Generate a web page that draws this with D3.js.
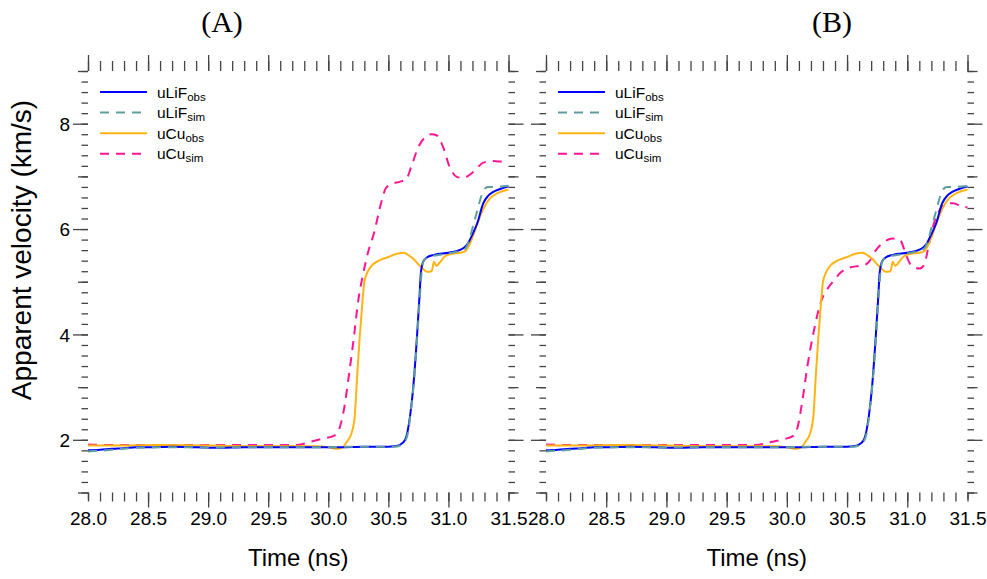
<!DOCTYPE html>
<html>
<head>
<meta charset="utf-8">
<script src="https://cdn.jsdelivr.net/npm/d3@7"></script>
<style>
  html, body { margin: 0; padding: 0; background: #fff; }
  svg { display: block; font-family: "Liberation Sans", Arial, Helvetica, sans-serif; }
</style>
</head>
<body>
<svg id="chart" width="987" height="579"></svg>
<script>
// Apparent velocity histories: LiF window and Cu sample, observed vs simulated.
// Times in ns, velocities in km/s.

const liFObsT = [28.0, 28.1, 28.2, 28.3, 28.4, 28.5, 28.7, 28.9, 29.1, 29.3, 29.5, 29.7, 29.9, 30.1, 30.3, 30.45, 30.55, 30.6, 30.64, 30.68, 30.71, 30.74, 30.76, 30.77, 30.79, 30.82, 30.88, 31.0, 31.08, 31.12, 31.16, 31.2, 31.24, 31.29, 31.33, 31.37, 31.43, 31.5];
const liFObsV = [1.80, 1.81, 1.83, 1.84, 1.86, 1.86, 1.87, 1.86, 1.85, 1.86, 1.86, 1.86, 1.86, 1.86, 1.87, 1.87, 1.88, 1.91, 2.00, 2.44, 3.07, 4.02, 4.75, 5.15, 5.38, 5.46, 5.51, 5.55, 5.59, 5.63, 5.72, 5.90, 6.11, 6.49, 6.63, 6.70, 6.76, 6.81];

const liFSimT = [28.0, 28.2, 28.4, 28.6, 28.8, 29.0, 29.2, 29.4, 29.6, 29.8, 30.0, 30.2, 30.4, 30.55, 30.62, 30.66, 30.69, 30.72, 30.745, 30.765, 30.78, 30.8, 30.85, 30.95, 31.05, 31.12, 31.15, 31.18, 31.21, 31.24, 31.27, 31.3, 31.33, 31.4, 31.5];
const liFSimV = [1.78, 1.81, 1.85, 1.86, 1.86, 1.85, 1.86, 1.86, 1.86, 1.86, 1.86, 1.87, 1.87, 1.87, 1.92, 2.10, 2.60, 3.30, 4.10, 4.80, 5.25, 5.42, 5.48, 5.52, 5.56, 5.60, 5.66, 5.85, 6.10, 6.35, 6.60, 6.76, 6.80, 6.80, 6.82];

const cuObsT = [28.0, 28.3, 28.6, 29.0, 29.3, 29.6, 29.9, 30.0, 30.08, 30.12, 30.16, 30.19, 30.22, 30.24, 30.26, 30.28, 30.3, 30.32, 30.36, 30.42, 30.5, 30.57, 30.63, 30.67, 30.71, 30.75, 30.79, 30.82, 30.86, 30.88, 30.9, 30.93, 30.97, 31.03, 31.1, 31.14, 31.18, 31.21, 31.24, 31.29, 31.34, 31.4, 31.5];
const cuObsV = [1.89, 1.89, 1.90, 1.89, 1.88, 1.88, 1.88, 1.86, 1.83, 1.86, 1.98, 2.10, 2.44, 3.20, 3.90, 4.50, 5.00, 5.15, 5.30, 5.40, 5.47, 5.53, 5.55, 5.50, 5.43, 5.33, 5.24, 5.19, 5.20, 5.38, 5.30, 5.37, 5.48, 5.53, 5.55, 5.58, 5.73, 5.90, 6.10, 6.38, 6.57, 6.67, 6.75];

// Simulated Cu velocity, model A
const cuSimAT = [28.0, 28.3, 28.6, 29.0, 29.4, 29.74, 29.85, 29.95, 30.05, 30.09, 30.13, 30.17, 30.21, 30.25, 30.29, 30.33, 30.38, 30.44, 30.48, 30.53, 30.6, 30.65, 30.69, 30.75, 30.81, 30.86, 30.9, 30.96, 31.01, 31.07, 31.12, 31.21, 31.29, 31.36, 31.43, 31.5];
const cuSimAV = [1.91, 1.90, 1.90, 1.90, 1.90, 1.90, 1.96, 2.02, 2.08, 2.20, 2.57, 3.20, 3.89, 4.65, 5.15, 5.55, 5.92, 6.50, 6.78, 6.86, 6.90, 6.95, 7.18, 7.56, 7.75, 7.80, 7.78, 7.53, 7.18, 6.99, 6.97, 7.09, 7.26, 7.29, 7.28, 7.31];

// Simulated Cu velocity, model B
const cuSimBT = [28.0, 28.3, 28.6, 29.0, 29.4, 29.74, 29.85, 29.97, 30.05, 30.09, 30.13, 30.17, 30.22, 30.25, 30.28, 30.33, 30.4, 30.44, 30.52, 30.6, 30.65, 30.69, 30.74, 30.81, 30.88, 30.94, 30.99, 31.03, 31.1, 31.14, 31.17, 31.2, 31.23, 31.27, 31.33, 31.38, 31.44, 31.5];
const cuSimBV = [1.91, 1.90, 1.90, 1.90, 1.90, 1.90, 1.95, 2.01, 2.07, 2.25, 2.76, 3.39, 4.02, 4.34, 4.60, 4.84, 5.05, 5.16, 5.27, 5.30, 5.32, 5.40, 5.60, 5.76, 5.82, 5.79, 5.51, 5.32, 5.25, 5.32, 5.60, 5.92, 6.17, 6.36, 6.49, 6.49, 6.44, 6.41];

const panelTitles = ["(A)", "(B)"];
const xTickLabels = ["28.0", "28.5", "29.0", "29.5", "30.0", "30.5", "31.0", "31.5"];
const yTickLabels = ["2", "4", "6", "8"];
const seriesNames = [["uLiF", "obs"], ["uLiF", "sim"], ["uCu", "obs"], ["uCu", "sim"]];

const zip = (t, v) => t.map((d, i) => [d, v[i]]);

const svg = d3.select("#chart");
const plotTop = 71, plotBottom = 492.5;

const panels = [
  { left: 88, right: 508.5, titleX: 222, cuSim: zip(cuSimAT, cuSimAV), yLabels: true },
  { left: 546, right: 967.5, titleX: 832, cuSim: zip(cuSimBT, cuSimBV), yLabels: false }
];

const styles = [
  { color: "#0000ff", dash: null, width: 2 },
  { color: "#5f9ea0", dash: "9,7", width: 2 },
  { color: "#ffb414", dash: null, width: 2 },
  { color: "#ff1493", dash: "9,7", width: 2 }
];

const tickColor = "#444";

// tick positions
const xMinor = d3.range(0, 36).map(i => +(28 + i / 10).toFixed(1));
const xMajor = xTickLabels.map(Number);
const yMinor = d3.range(0, 41).map(i => +(1 + i * 0.2).toFixed(1));
const yOdd = [1, 3, 5, 7, 9];
const yMajor = yTickLabels.map(Number);

function clean(g) {
  g.select(".domain").remove();
  g.selectAll(".tick line").attr("stroke", tickColor).attr("stroke-width", 1.3);
}

panels.forEach((p, pi) => {
  const x = d3.scaleLinear().domain([28, 31.5]).range([p.left, p.right]);
  const y = d3.scaleLinear().domain([1, 9]).range([plotBottom, plotTop]);
  const g = svg.append("g");

  // bottom axis
  g.append("g").attr("transform", `translate(0,${plotBottom})`)
    .call(d3.axisBottom(x).tickValues(xMinor).tickSize(9).tickFormat(""))
    .call(clean);
  g.append("g").attr("transform", `translate(0,${plotBottom})`)
    .call(d3.axisBottom(x).tickValues(xMajor.filter(v => v > 28 && v < 31.5)).tickSize(15).tickFormat(""))
    .call(clean);
  g.append("g").attr("transform", `translate(0,${plotBottom})`)
    .call(d3.axisBottom(x).tickValues([28, 31.5]).tickSize(7).tickFormat(""))
    .call(clean);
  const bl = g.append("g").attr("transform", `translate(0,${plotBottom})`)
    .call(d3.axisBottom(x).tickValues(xMajor).tickSize(0).tickFormat((d, i) => xTickLabels[i]));
  bl.select(".domain").remove();
  bl.selectAll("text").attr("y", 32.5).attr("dy", 0)
    .attr("font-size", 19).attr("fill", "#000")
    .attr("font-family", '"Liberation Sans", Arial, sans-serif');

  // top axis
  g.append("g").attr("transform", `translate(0,${plotTop})`)
    .call(d3.axisTop(x).tickValues(xMinor).tickSize(10).tickFormat(""))
    .call(clean);
  g.append("g").attr("transform", `translate(0,${plotTop})`)
    .call(d3.axisTop(x).tickValues(xMajor).tickSize(16).tickFormat(""))
    .call(clean);

  // left and right axes
  [["left", p.left, d3.axisLeft], ["right", p.right, d3.axisRight]].forEach(([side, pos, ax]) => {
    g.append("g").attr("transform", `translate(${pos},0)`)
      .call(ax(y).tickValues(yMinor).tickSize(6.5).tickFormat(""))
      .call(clean);
    g.append("g").attr("transform", `translate(${pos},0)`)
      .call(ax(y).tickValues(yOdd).tickSize(10).tickFormat(""))
      .call(clean);
    const gm = g.append("g").attr("transform", `translate(${pos},0)`)
      .call(ax(y).tickValues(yMajor).tickSize(15)
        .tickFormat((d, i) => (side === "left" && p.yLabels) ? yTickLabels[i] : ""))
      .call(clean);
    gm.selectAll("text").attr("x", -18).attr("dy", "0.35em")
      .attr("font-size", 19).attr("fill", "#000")
      .attr("font-family", '"Liberation Sans", Arial, sans-serif');
  });

  // series
  const line = d3.line().x(d => x(d[0])).y(d => y(d[1])).curve(d3.curveMonotoneX);
  const series = [zip(liFObsT, liFObsV), zip(liFSimT, liFSimV), zip(cuObsT, cuObsV), p.cuSim];
  const drawOrder = [3, 2, 0, 1];
  drawOrder.forEach(si => {
    const s = styles[si];
    g.append("path").datum(series[si])
      .attr("d", line)
      .attr("fill", "none")
      .attr("stroke", s.color)
      .attr("stroke-width", s.width)
      .attr("stroke-linejoin", "round")
      .attr("stroke-dasharray", s.dash);
  });

  // legend
  const lg = g.append("g").attr("transform", `translate(${p.left + 12},92)`);
  seriesNames.forEach((nm, i) => {
    const s = styles[i];
    const row = lg.append("g").attr("transform", `translate(0,${i * 20.6})`);
    row.append("line").attr("x1", 0).attr("x2", 47).attr("y1", 0).attr("y2", 0)
      .attr("stroke", s.color).attr("stroke-width", 2).attr("stroke-dasharray", s.dash);
    const t = row.append("text").attr("x", 57).attr("y", 5.5)
      .attr("font-size", 15.5).attr("fill", "#000");
    t.append("tspan").text(nm[0]);
    t.append("tspan").attr("font-size", 11.5).attr("dy", 3).text(nm[1]);
  });

  // axis titles
  g.append("text").attr("x", (p.left + p.right) / 2).attr("y", 566)
    .attr("text-anchor", "middle").attr("font-size", 24).attr("fill", "#000")
    .text("Time (ns)");

  g.append("text").attr("x", p.titleX).attr("y", 32)
    .attr("text-anchor", "middle").attr("font-size", 30).attr("fill", "#000")
    .attr("font-family", '"Liberation Serif", "Times New Roman", serif')
    .text(panelTitles[pi]);
});

svg.append("text")
  .attr("transform", "translate(31,250) rotate(-90)")
  .attr("text-anchor", "middle").attr("font-size", 28).attr("fill", "#000")
  .text("Apparent velocity (km/s)");
</script>
</body>
</html>
